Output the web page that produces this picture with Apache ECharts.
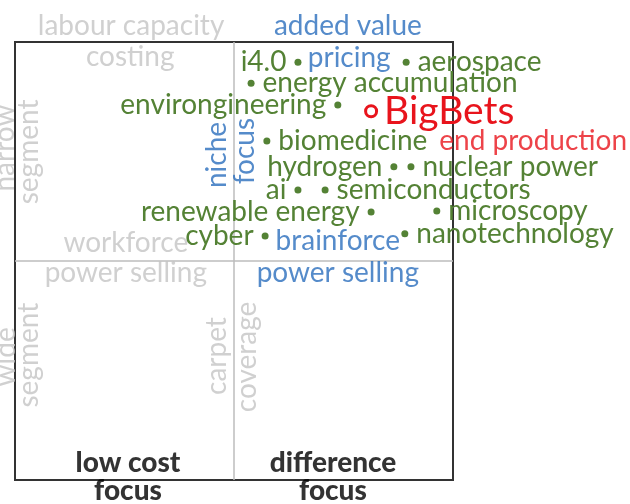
<!DOCTYPE html>
<html>
<head>
<meta charset="utf-8">
<script src="https://cdn.jsdelivr.net/npm/echarts@6/dist/echarts.min.js"></script>
<style>
  html, body { margin: 0; padding: 0; background: #fff; }
  #bigBetsChart { width: 630px; height: 504px; }
</style>
</head>
<body>
<div id="bigBetsChart"></div>
<script>
// quadrant grid runs 0..100 on both axes, dividers at 50
const xDividers = [0, 50, 100]
const yDividers = [0, 50, 100]

// green points: [name, x, y], label to the left of the dot
const leftPoints = [
  ['i4.0', 64.6, 95.4],
  ['environgineering', 73.7, 85.6],
  ['hydrogen', 86.5, 71.5],
  ['ai', 64.6, 66.2],
  ['renewable energy', 81.3, 61.2],
  ['cyber', 57.1, 55.7]
]
// green points, label to the right of the dot
const rightPoints = [
  ['aerospace', 89.3, 95.4],
  ['energy accumulation', 53.9, 90.6],
  ['biomedicine', 57.5, 77.4],
  ['nuclear power', 90.4, 71.5],
  ['semiconductors', 70.8, 66.2],
  ['microscopy', 96.3, 61.4],
  ['nanotechnology', 89.0, 56.2]
]
const bigBets = [['BigBets', 81.3, 84.2]]

// text-only notes: [text, x, y]
const grayNotes = [
  ['labour capacity', 26.5, 103.6],
  ['costing', 26.3, 96.6],
  ['workforce', 25.3, 54.1],
  ['power selling', 25.3, 47.3]
]
const grayVertical = [
  ['narrow', -2.3, 75.8],
  ['segment', 3.2, 74.9],
  ['wide', -2.1, 28.1],
  ['segment', 3.2, 28.5],
  ['carpet', 46.1, 28.3],
  ['coverage', 53.0, 28.1]
]
const blueNotes = [
  ['added value', 76.0, 103.7],
  ['pricing', 76.3, 96.3],
  ['brainforce', 73.7, 54.6],
  ['power selling', 73.7, 47.3]
]
const blueVertical = [
  ['niche', 46.1, 74.2],
  ['focus', 52.5, 75.1]
]
const redNotes = [['end production', 118.3, 77.4]]
const blackNotes = [
  ['low cost', 25.8, 3.9],
  ['focus', 25.8, -2.5],
  ['difference', 72.6, 3.9],
  ['focus', 72.6, -2.5]
]

const FONT = 'Lato'
const GREEN = '#548235'
const BLUE = '#2a6ebd'
const RED = '#e8141c'
const GRAY = '#c4c4c4'

const toData = rows => rows.map(r => ({ name: r[0], value: [r[1], r[2]] }))

function pointSeries(rows, position) {
  return {
    type: 'scatter',
    data: toData(rows),
    symbolSize: 7,
    itemStyle: { color: GREEN, opacity: 1 },
    clip: false,
    silent: true,
    z: 3,
    label: {
      show: true,
      position: position,
      distance: 8,
      formatter: p => p.name,
      color: GREEN,
      fontFamily: FONT,
      fontSize: 28
    }
  }
}

function noteSeries(rows, color, opts) {
  opts = opts || {}
  return {
    type: 'scatter',
    data: toData(rows),
    symbolSize: 1,
    itemStyle: { color: 'rgba(0,0,0,0)' },
    clip: false,
    silent: true,
    z: 2,
    label: {
      show: true,
      position: 'inside',
      formatter: p => p.name,
      color: color,
      textBorderWidth: 0,
      fontFamily: FONT,
      fontSize: opts.fontSize || 28,
      fontWeight: opts.fontWeight || 'normal',
      rotate: opts.rotate || 0
    }
  }
}

const dividerLine = {
  show: true,
  showMinLine: false,
  showMaxLine: false,
  lineStyle: { color: '#bdbdbd', width: 1.5 }
}

const chart = echarts.init(document.getElementById('bigBetsChart'))
chart.setOption({
  animation: false,
  grid: {
    left: 15, top: 42, width: 438, height: 438,
    show: true, borderColor: '#333', borderWidth: 2
  },
  xAxis: {
    type: 'value', min: xDividers[0], max: xDividers[2], interval: xDividers[1],
    axisLine: { show: false }, axisTick: { show: false }, axisLabel: { show: false },
    splitLine: dividerLine
  },
  yAxis: {
    type: 'value', min: yDividers[0], max: yDividers[2], interval: yDividers[1],
    axisLine: { show: false }, axisTick: { show: false }, axisLabel: { show: false },
    splitLine: dividerLine
  },
  series: [
    noteSeries(grayNotes, GRAY),
    noteSeries(grayVertical, GRAY, { rotate: 90 }),
    noteSeries(blueNotes, BLUE),
    noteSeries(blueVertical, BLUE, { rotate: 90 }),
    noteSeries(redNotes, RED),
    noteSeries(blackNotes, '#000', { fontWeight: 900 }),
    pointSeries(leftPoints, 'left'),
    pointSeries(rightPoints, 'right'),
    {
      type: 'scatter',
      data: toData(bigBets),
      symbolSize: 11,
      itemStyle: { color: '#fff', borderColor: RED, borderWidth: 3, opacity: 1 },
      clip: false,
      silent: true,
      z: 4,
      label: {
        show: true,
        position: 'right',
        distance: 6,
        formatter: p => p.name,
        color: RED,
        fontFamily: FONT,
        fontSize: 39
      }
    }
  ]
})
</script>
</body>
</html>
